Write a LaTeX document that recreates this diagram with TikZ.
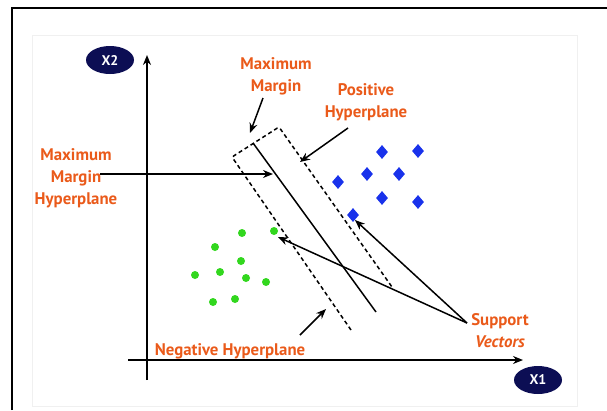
\documentclass[tikz,border=0pt]{standalone}
\usepackage{fontspec}
\setmainfont{PT Sans}
\usetikzlibrary{arrows.meta,shapes.geometric}
\definecolor{lbl}{RGB}{234,90,26}
\definecolor{navy}{RGB}{12,14,84}
\definecolor{dotgreen}{RGB}{50,215,30}
\definecolor{diablue}{RGB}{25,50,235}
\begin{document}
\begin{tikzpicture}[x=1pt,y=-1pt,
 lbltext/.style={text=lbl, font=\bfseries\fontsize{16.8}{22}\selectfont, align=center, inner sep=0pt},
 axislbl/.style={ellipse, fill=navy, text=white, font=\bfseries\fontsize{14}{15}\selectfont, minimum width=48pt, minimum height=28pt, inner sep=0pt},
 ln/.style={line width=1.5pt, draw=black},
 arr/.style={ln, -{Stealth[length=10pt,width=8pt]}},
 dsh/.style={line width=1.5pt, dash pattern=on 4pt off 3pt, rounded corners=2pt},
 gdot/.style={circle, fill=dotgreen, minimum size=8pt, inner sep=0pt},
 bdia/.style={diamond, fill=diablue, minimum width=12pt, minimum height=14pt, inner sep=0pt},
]
\useasboundingbox (0,0) rectangle (607,410);
% frame
\draw[line width=2.5pt] (12,410) -- (12,8) -- (607,8);
\draw[draw=black!6] (32,35) rectangle (577,406);

% axes
\coordinate (yb) at (147,380);
\coordinate (yt) at (147,55);
\coordinate (xl) at (128,360);
\coordinate (xr) at (523,360);
\draw[arr] (yb) -- (yt);
\draw[arr] (xl) -- (xr);
\node[axislbl] (x2) at (110,60) {X2};
\node[axislbl] (x1) at (538,380) {X1};

% margin band
\coordinate (dl1) at (351,330);
\coordinate (dl2) at (232,157);
\coordinate (dr1) at (279,127);
\coordinate (dr2) at (392,287);
\draw[dsh] (dl1) -- (dl2) -- (dr1) -- (dr2);
\coordinate (h1) at (253,143);
\coordinate (h2) at (376,312);
\draw[ln] (h1) -- (h2);

% labels
\node[lbltext] (mm) at (276,76) {Maximum\\Margin};
\node[lbltext] (ph) at (366,102) {Positive\\Hyperplane};
\node[lbltext] (mmh) at (76,178) {Maximum\\Margin\\Hyperplane};
\node[lbltext] (nh) at (230,351) {Negative Hyperplane};
\node[lbltext] (sv) at (500,331) {Support\\\textit{Vectors}};

% arrows
\coordinate (mmA) at (263,98);
\coordinate (mmB) at (250,133);
\draw[arr] (mmA) -- (mmB);
\coordinate (phA) at (348,128);
\coordinate (phB) at (300,162);
\draw[arr] (phA) -- (phB);
\coordinate (mhA) at (100,174);
\coordinate (mhB) at (273,174);
\draw[arr] (mhA) -- (mhB);
\coordinate (svA) at (467,323);
\coordinate (svB) at (355,220);
\coordinate (svC) at (278,237);
\draw[arr] (svA) -- (svB);
\draw[arr] (svA) -- (svC);
\coordinate (nhA) at (300,335);
\coordinate (nhB) at (326,309);
\draw[arr] (nhA) -- (nhB);

% green points
\foreach \p [count=\i] in {(195,275),(215,247),(242,233),(274,231),(220,272),(241,261),(246,278),(266,282),(213,302),(235,299)}
  \node[gdot] (g\i) at \p {};
% blue points
\foreach \p [count=\i] in {(382,152),(418,151),(367,174),(399,174),(338,182),(382,198),(418,202),(353,215)}
  \node[bdia] (b\i) at \p {};
\end{tikzpicture}
\end{document}
